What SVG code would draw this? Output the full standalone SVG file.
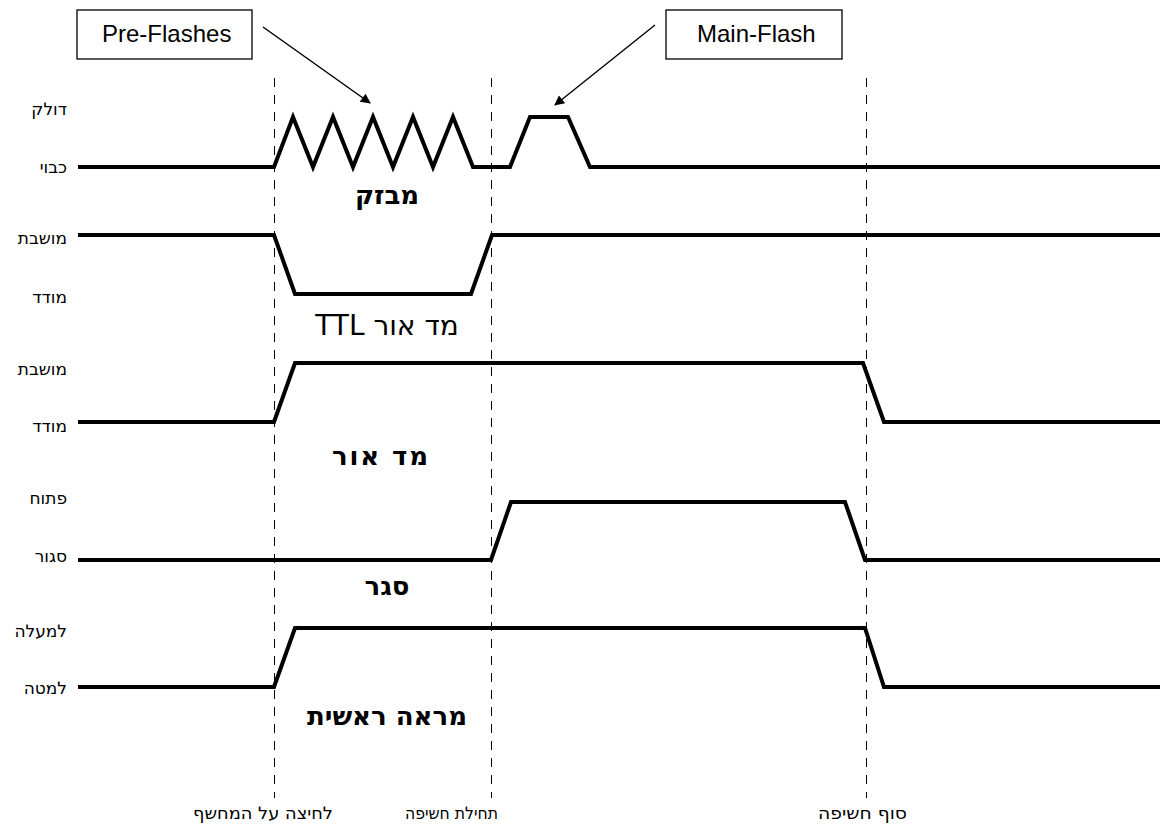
<svg xmlns="http://www.w3.org/2000/svg" width="1160" height="827" viewBox="0 0 1160 827">
  <style>
    .sig { fill: none; stroke: #000; stroke-width: 4; stroke-linejoin: miter; }
    .guide { stroke: #000; stroke-width: 1; stroke-dasharray: 9 8; }
    .box { fill: #fff; stroke: #000; stroke-width: 1.3; }
    .call { stroke: #000; stroke-width: 1.5; fill: none; }
    .lbl { font-family: "DejaVu Sans", "Liberation Sans", sans-serif; font-size: 17px; fill: #000; text-anchor: end; }
    .name { font-family: "DejaVu Sans", "Liberation Sans", sans-serif; font-size: 26px; font-weight: bold; fill: #000; text-anchor: middle; }
    .en { font-family: "Liberation Sans", Arial, sans-serif; font-size: 24px; fill: #000; }
  </style>
  <defs>
    <marker id="head" viewBox="0 0 10 10" refX="9" refY="5" markerWidth="12" markerHeight="10" markerUnits="userSpaceOnUse" orient="auto">
      <path d="M0,0 L10,5 L0,10 z" fill="#000"/>
    </marker>
  </defs>

  <!-- event guides -->
  <g id="guides">
    <line class="guide" x1="274.5" y1="78" x2="274.5" y2="798"/>
    <line class="guide" x1="491.5" y1="78" x2="491.5" y2="798"/>
    <line class="guide" x1="866.5" y1="78" x2="866.5" y2="798"/>
    <text class="lbl" x="333" y="819" textLength="140" lengthAdjust="spacingAndGlyphs">לחיצה על המחשף</text>
    <text class="lbl" x="498" y="819" textLength="93" lengthAdjust="spacingAndGlyphs">תחילת חשיפה</text>
    <text class="lbl" x="907" y="819" textLength="89" lengthAdjust="spacingAndGlyphs">סוף חשיפה</text>
  </g>

  <!-- flash -->
  <g id="flash">
    <text class="lbl" x="67" y="115">דולק</text>
    <text class="lbl" x="67" y="173">כבוי</text>
    <path class="sig" d="M78,167 H274 L293,117 L313,167 L333,117 L353,167 L373,117 L393,167 L413,117 L433,167 L453,117 L473,167 H510 L530,117 H568 L590,167 H1160"/>
    <text class="name" x="387" y="204">מבזק</text>
  </g>

  <!-- TTL meter -->
  <g id="ttl-meter">
    <text class="lbl" x="67" y="244">מושבת</text>
    <text class="lbl" x="67" y="303">מודד</text>
    <path class="sig" d="M78,235 H274 L295,294 H471 L492,235 H1160"/>
    <text class="name" x="387" y="335" direction="rtl" unicode-bidi="embed" style="font-weight:normal;font-size:28px">מד אור TTL</text>
  </g>

  <!-- light meter -->
  <g id="meter">
    <text class="lbl" x="67" y="375">מושבת</text>
    <text class="lbl" x="67" y="432">מודד</text>
    <path class="sig" d="M78,422 H274 L295,363 H863 L884,422 H1160"/>
    <text class="name" x="380" y="465" textLength="96">מד אור</text>
  </g>

  <!-- shutter -->
  <g id="shutter">
    <text class="lbl" x="67" y="504">פתוח</text>
    <text class="lbl" x="67" y="562">סגור</text>
    <path class="sig" d="M78,560 H491 L511,502 H845 L865,560 H1160"/>
    <text class="name" x="387" y="595">סגר</text>
  </g>

  <!-- main mirror -->
  <g id="mirror">
    <text class="lbl" x="67" y="637">למעלה</text>
    <text class="lbl" x="67" y="694">למטה</text>
    <path class="sig" d="M78,687 H274 L295,628 H865 L884,687 H1160"/>
    <text class="name" x="387" y="725">מראה ראשית</text>
  </g>

  <!-- callouts -->
  <g id="pre-flashes">
    <rect class="box" x="77" y="10" width="175" height="49"/>
    <text class="en" x="102" y="42">Pre-Flashes</text>
  </g>
  <g id="main-flash">
    <rect class="box" x="666" y="10" width="176" height="49"/>
    <text class="en" x="697" y="42">Main-Flash</text>
  </g>
  <g id="connectors">
    <line class="call" x1="263" y1="27" x2="370" y2="103" marker-end="url(#head)"/>
    <line class="call" x1="655" y1="25" x2="555" y2="105" marker-end="url(#head)"/>
  </g>
</svg>
